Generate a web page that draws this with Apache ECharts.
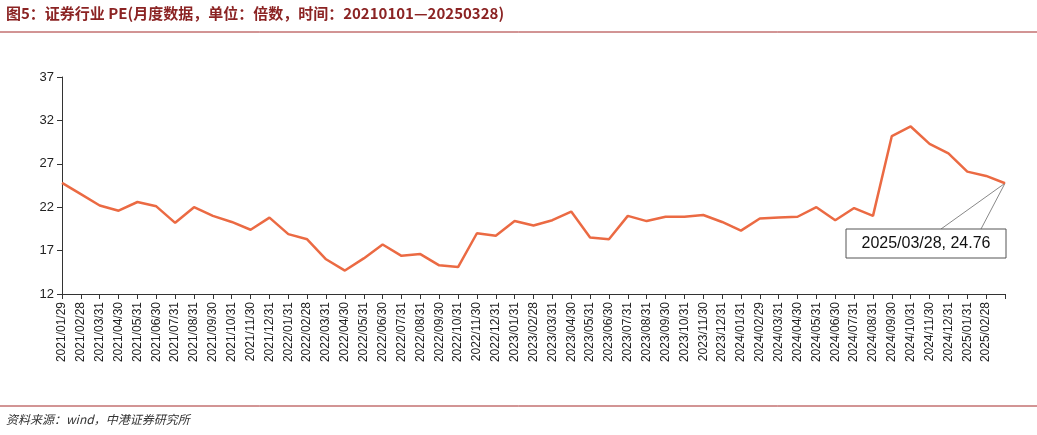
<!DOCTYPE html>
<html><head><meta charset="utf-8">
<script src="https://cdn.jsdelivr.net/npm/echarts@6/dist/echarts.min.js"></script>
<style>html,body{margin:0;padding:0;background:#fff}#c{width:1037px;height:435px}</style>
</head><body><div id="c"></div>
<script>
const categories = ["2021/01/29","2021/02/28","2021/03/31","2021/04/30","2021/05/31","2021/06/30","2021/07/31","2021/08/31","2021/09/30","2021/10/31","2021/11/30","2021/12/31",
"2022/01/31","2022/02/28","2022/03/31","2022/04/30","2022/05/31","2022/06/30","2022/07/31","2022/08/31","2022/09/30","2022/10/31","2022/11/30","2022/12/31",
"2023/01/31","2023/02/28","2023/03/31","2023/04/30","2023/05/31","2023/06/30","2023/07/31","2023/08/31","2023/09/30","2023/10/31","2023/11/30","2023/12/31",
"2024/01/31","2024/02/29","2024/03/31","2024/04/30","2024/05/31","2024/06/30","2024/07/31","2024/08/31","2024/09/30","2024/10/31","2024/11/30","2024/12/31",
"2025/01/31","2025/02/28","2025/03/28"];
const peValues = [24.8,23.5,22.2,21.6,22.6,22.1,20.2,22.0,21.0,20.3,19.4,20.8,
18.9,18.3,16.0,14.7,16.1,17.7,16.4,16.6,15.3,15.1,19.0,18.7,
20.4,19.9,20.5,21.5,18.5,18.3,21.0,20.4,20.9,20.9,21.1,20.3,
19.3,20.7,20.8,20.9,22.0,20.5,21.9,21.0,30.2,31.3,29.3,28.2,
26.1,25.6,24.76];
const yTicks = [12,17,22,27,32,37];
const chart = echarts.init(document.getElementById('c'));
const font = 'Liberation Sans, Arial, sans-serif';
chart.setOption({
  animation:false,
  grid:{left:62,right:32,top:77,bottom:141},
  xAxis:{type:'category',data:categories,boundaryGap:false,
    axisLine:{lineStyle:{color:'#333'}},axisTick:{show:true,interval:0,lineStyle:{color:'#333'}},
    axisLabel:{interval:0,rotate:90,color:'#222',fontSize:12,fontFamily:font,
      formatter:(v,i)=> i===categories.length-1?'':v}},
  yAxis:{type:'value',min:yTicks[0],max:yTicks[yTicks.length-1],interval:5,
    splitLine:{show:false},axisLine:{show:true,lineStyle:{color:'#333'}},axisTick:{show:true,lineStyle:{color:'#333'}},
    axisLabel:{color:'#222',fontSize:13,fontFamily:font}},
  series:[{type:'line',data:peValues,symbol:'none',lineStyle:{color:'#EB6A43',width:2.5}}]
});
const last = categories.length-1;
const p = chart.convertToPixel({xAxisIndex:0,yAxisIndex:0},[last,peValues[last]]);
const bx=846, by=229, bw=160, bh=29;
chart.setOption({graphic:[
  {type:'text',left:6,top:6,style:{text:'图5：证券行业 PE(月度数据，单位：倍数，时间：20210101—20250328)',fill:'#8B2323',font:'bold 15px "Noto Sans CJK SC", sans-serif'}},
  {type:'line',shape:{x1:0,y1:32,x2:1037,y2:32},style:{stroke:'#A52A2A',lineWidth:1}},
  {type:'line',shape:{x1:0,y1:406,x2:1037,y2:406},style:{stroke:'#A52A2A',lineWidth:1}},
  {type:'text',left:6,top:413,style:{text:'资料来源：wind，中港证券研究所',fill:'#333',font:'italic 12px "Noto Sans CJK SC", sans-serif'}},
  {type:'line',shape:{x1:p[0],y1:p[1],x2:bx+95,y2:by},style:{stroke:'#888',lineWidth:1}},
  {type:'line',shape:{x1:p[0],y1:p[1],x2:bx+135,y2:by},style:{stroke:'#888',lineWidth:1}},
  {type:'rect',shape:{x:bx,y:by,width:bw,height:bh},style:{fill:'#fff',stroke:'#555',lineWidth:1}},
  {type:'text',x:bx+bw/2,y:by+bh/2,style:{text:categories[last]+', '+peValues[last],fill:'#111',font:'16px "Liberation Sans", Arial, sans-serif',align:'center',verticalAlign:'middle'}}
]});
</script></body></html>
